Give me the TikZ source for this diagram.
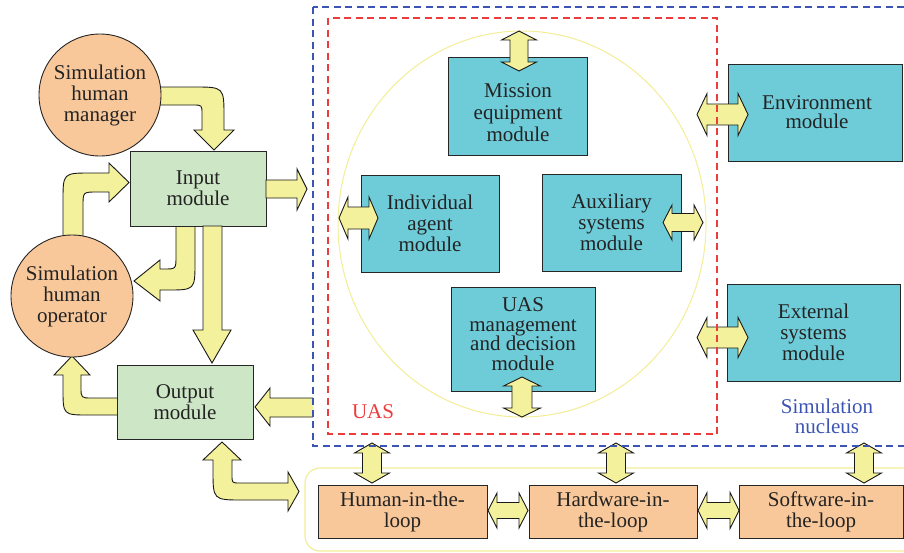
\documentclass[tikz,border=0pt]{standalone}
\usepackage{fontspec}
\setmainfont{Liberation Serif}
\definecolor{modorange}{RGB}{249,200,154}
\definecolor{modgreen}{RGB}{205,230,197}
\definecolor{modcyan}{RGB}{110,204,217}
\definecolor{arrowyellow}{RGB}{244,241,156}
\definecolor{ringyellow}{RGB}{243,237,150}
\definecolor{nucleusblue}{RGB}{60,85,180}
\definecolor{uasred}{RGB}{236,60,60}
\definecolor{inkgray}{RGB}{35,35,35}

% vertical double block arrow: x, top tip, bottom tip, shaft half width, head half width, head length
\newcommand\VDArrow[6]{%
  \draw[blockarrow] (#1,#2) -- ({#1+#5},{#2+#6}) -- ({#1+#4},{#2+#6}) -- ({#1+#4},{#3-#6})
    -- ({#1+#5},{#3-#6}) -- (#1,#3) -- ({#1-#5},{#3-#6}) -- ({#1-#4},{#3-#6})
    -- ({#1-#4},{#2+#6}) -- ({#1-#5},{#2+#6}) -- cycle;}
% horizontal double block arrow: y, left tip, right tip, shaft half width, head half width, head length
\newcommand\HDArrow[6]{%
  \draw[blockarrow] (#2,#1) -- ({#2+#6},{#1-#5}) -- ({#2+#6},{#1-#4}) -- ({#3-#6},{#1-#4})
    -- ({#3-#6},{#1-#5}) -- (#3,#1) -- ({#3-#6},{#1+#5}) -- ({#3-#6},{#1+#4})
    -- ({#2+#6},{#1+#4}) -- ({#2+#6},{#1+#5}) -- cycle;}

\begin{document}
\begin{tikzpicture}[x=1pt,y=-1pt,
  every node/.style={align=center, text=inkgray, font=\fontsize{21}{21}\selectfont},
  box/.style={draw=black!85, line width=0.9pt, inner sep=0pt},
  greenbox/.style={box, fill=modgreen, minimum width=136pt, minimum height=75pt},
  cyanbox/.style={box, fill=modcyan},
  loopbox/.style={box, fill=modorange, minimum height=53pt},
  actor/.style={circle, draw=black!85, line width=0.9pt, fill=modorange, minimum size=122pt, inner sep=0pt},
  blockarrow/.style={draw=black!90, line width=0.9pt, fill=arrowyellow, line join=miter},
  arrowline/.style={draw=black!90, line width=0.9pt, line join=miter},
  frame/.style={dashed, dash pattern=on 7pt off 4.5pt, line width=1.1pt}]
\useasboundingbox (0,0) rectangle (904,552);
\clip (0,0) rectangle (904,552);

% UAS ring and the loop band
\draw[ringyellow, line width=1pt] (522,224) ellipse [x radius=184, y radius=193];
\draw[ringyellow, line width=1.2pt, rounded corners=15pt] (305,468) rectangle (930,551);

% curved block arrows (drawn under the nodes they start from)
\draw[blockarrow] (150,87) -- (194,87) .. controls (224,87) .. (224,117) -- (224,130)
  -- (234,130) -- (214,150) -- (194,130) -- (202,130) -- (202,114)
  .. controls (202,105) .. (193,105) -- (150,105) -- cycle;
\draw[blockarrow] (63,250) -- (63,201) .. controls (63,173) .. (91,173) -- (109,173)
  -- (109,163) -- (129,182.5) -- (109,202) -- (109,192) -- (97,192)
  .. controls (83,192) .. (83,206) -- (83,250) -- cycle;
\draw[blockarrow] (176,220) -- (176,256) .. controls (176,269) .. (164,269) -- (160,269)
  -- (160,260) -- (134,281) -- (160,301) -- (160,290) -- (167,290)
  .. controls (195,290) .. (195,262) -- (195,220) -- cycle;
\draw[blockarrow] (125,398) -- (92,398) .. controls (81,398) .. (81,387) -- (81,375)
  -- (90,375) -- (72,356) -- (54,375) -- (63,375) -- (63,389)
  .. controls (63,415) .. (89,415) -- (125,415) -- cycle;
\draw[blockarrow] (222,442) -- (241,460) -- (232,460) -- (232,475)
  .. controls (232,483) .. (240,483) -- (288,483) -- (288,472) -- (299,491.5)
  -- (288,511) -- (288,500) -- (243,500) .. controls (213,500) .. (213,470)
  -- (213,460) -- (203,460) -- cycle;

% actors and modules
\node[actor] (manager) at (100,95) {Simulation\\human\\manager};
\node[actor] (operator) at (72,296) {Simulation\\human\\operator};
\node[greenbox] (input) at (198,188.5) {Input\\module};
\node[greenbox, minimum height=74pt] (output) at (185,402) {Output\\module};

\node[cyanbox, minimum width=139pt, minimum height=98pt] (mission) at (517.5,106) {};
\node[font=\fontsize{21}{22}\selectfont] (missiontext) at (518,113) {Mission\\equipment\\module};
\node[cyanbox, minimum width=138pt, minimum height=97pt] (agent) at (430,223.5) {Individual\\agent\\module};
\node[cyanbox, minimum width=139pt, minimum height=97pt] (aux) at (611.5,222.5) {Auxiliary\\systems\\module};
\node[cyanbox, minimum width=144pt, minimum height=104pt] (decision) at (523,339) {};
\node[font=\fontsize{21}{19.5}\selectfont] (decisiontext) at (523,334) {UAS\\management\\and decision\\module};
\node[cyanbox, minimum width=174pt, minimum height=97pt] (environment) at (815,112.5) {};
\node[font=\fontsize{21}{19.5}\selectfont] (environmenttext) at (817,112) {Environment\\module};
\node[cyanbox, minimum width=173pt, minimum height=97pt] (external) at (813.5,332.5) {External\\systems\\module};

\node[loopbox, minimum width=169pt] (human) at (402.5,511.5) {Human-in-the-\\loop};
\node[loopbox, minimum width=168pt] (hardware) at (613,511.5) {Hardware-in-\\the-loop};
\node[loopbox, minimum width=164pt] (software) at (821,511.5) {Software-in-\\the-loop};

% straight block arrows
\draw[blockarrow] (266,180) -- (297,180) -- (297,169) -- (307,189) -- (297,210) -- (297,198) -- (266,198) -- cycle;
\draw[blockarrow] (203,226) -- (203,330) -- (193,330) -- (212,363) -- (231,330) -- (222,330) -- (222,226) -- cycle;
\fill[arrowyellow] (313,398) -- (270,398) -- (270,388) -- (255,407) -- (270,426) -- (270,417) -- (313,417) -- cycle;
\draw[arrowline] (313,398) -- (270,398) -- (270,388) -- (255,407) -- (270,426) -- (270,417) -- (313,417);

\VDArrow{519}{31}{71}{9}{17.5}{9}
\VDArrow{522}{377}{417}{10}{18.5}{9}
\HDArrow{218}{339}{378}{11}{21}{9}
\HDArrow{222.5}{663}{703}{9}{17.5}{9}
\HDArrow{114.5}{697}{748}{10.5}{21}{10}
\HDArrow{337.5}{697}{748}{10.5}{20}{10}

\VDArrow{372}{443}{483}{9.5}{17.5}{10}
\VDArrow{616}{443}{483}{9.5}{17.5}{10}
\VDArrow{864}{443}{483}{9.5}{17.5}{10}
\HDArrow{510.5}{488}{528}{8}{17.5}{9}
\HDArrow{510.5}{698}{739}{8}{18}{9}

% UAS and simulation nucleus frames
\draw[frame, uasred] (328,18) rectangle (717,434);
\draw[frame, nucleusblue] (313,7) rectangle (940,446);

\node[text=uasred] (uaslabel) at (373,412) {UAS};
\node[text=nucleusblue, font=\fontsize{21}{20}\selectfont] (nucleuslabel) at (827,416) {Simulation\\nucleus};
\end{tikzpicture}
\end{document}
